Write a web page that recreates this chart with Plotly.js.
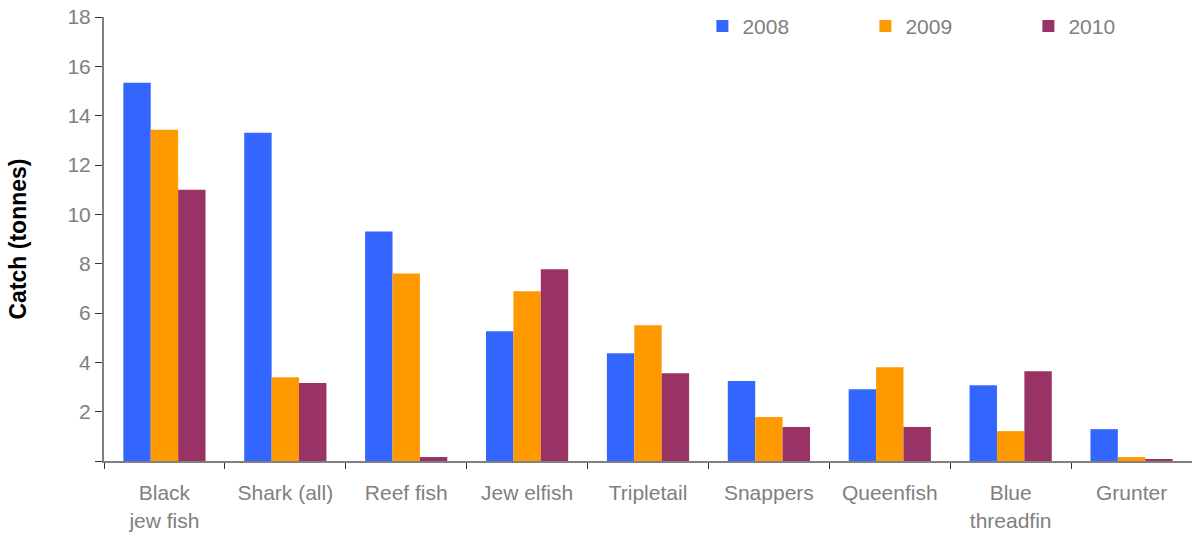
<!DOCTYPE html>
<html><head><meta charset="utf-8">
<script src="https://cdn.plot.ly/plotly-3.0.1.min.js"></script>
<style>body{margin:0;background:#fff}#chart{width:1192px;height:537px}</style>
</head><body><div id="chart"></div>
<script>
const categories = ["Black<br>jew fish", "Shark (all)", "Reef fish", "Jew elfish", "Tripletail", "Snappers", "Queenfish", "Blue<br>threadfin", "Grunter"];
const series2008 = [15.33, 13.31, 9.30, 5.26, 4.37, 3.24, 2.91, 3.07, 1.29];
const series2009 = [13.43, 3.40, 7.60, 6.88, 5.50, 1.78, 3.80, 1.21, 0.16];
const series2010 = [11.00, 3.16, 0.16, 7.77, 3.56, 1.38, 1.38, 3.64, 0.08];
const yTickVals = [0, 2, 4, 6, 8, 10, 12, 14, 16, 18];
const yTickText = ["", "2", "4", "6", "8", "10", "12", "14", "16", "18"];

const font = "Liberation Sans, Arial, sans-serif";
const traces = [
  {type: "bar", name: "2008", x: categories, y: series2008, marker: {color: "#3366FF"}},
  {type: "bar", name: "2009", x: categories, y: series2009, marker: {color: "#FF9900"}},
  {type: "bar", name: "2010", x: categories, y: series2010, marker: {color: "#993366"}}
];
const layout = {
  width: 1192, height: 537,
  margin: {l: 104, r: 0, t: 17, b: 76, autoexpand: false},
  paper_bgcolor: "#fff", plot_bgcolor: "#fff",
  barmode: "group", bargap: 0.32, bargroupgap: 0,
  showlegend: true,
  legend: {orientation: "h", x: 0.55, y: 1.025, xanchor: "left", yanchor: "top",
    entrywidth: 118, entrywidthmode: "pixels", itemwidth: 30,
    font: {family: font, size: 21, color: "#808080"}, bgcolor: "rgba(0,0,0,0)"},
  xaxis: {type: "category", showline: true, linecolor: "#808080", linewidth: 2, automargin: false,
    ticks: "outside", tickson: "boundaries", ticklen: 6, tickcolor: "#333", tickwidth: 1,
    ticklabelstandoff: 12,
    tickfont: {family: font, size: 21, color: "#808080"}, showgrid: false, zeroline: false},
  yaxis: {range: [0, 18], tickvals: yTickVals, ticktext: yTickText, automargin: false,
    showline: true, linecolor: "#808080", linewidth: 2,
    ticks: "outside", ticklen: 7, tickcolor: "#333", tickwidth: 1,
    tickfont: {family: font, size: 21, color: "#808080"}, showgrid: false, zeroline: false,
    title: {text: "<b>Catch (tonnes)</b>", font: {family: font, size: 23, color: "#000"}, standoff: 34}}
};
Plotly.newPlot("chart", traces, layout, {displayModeBar: false});
</script></body></html>
